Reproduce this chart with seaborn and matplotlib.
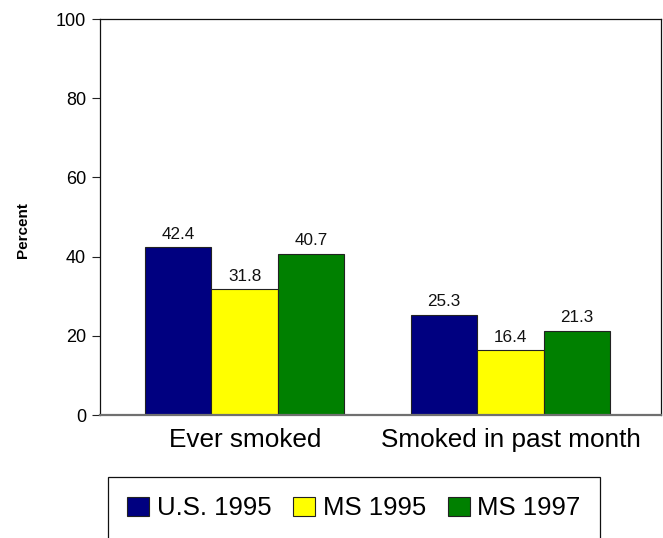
import matplotlib
matplotlib.use("Agg")
import matplotlib.pyplot as plt
import seaborn as sns
import pandas as pd

# Youth tobacco survey: share of students who have smoked
categories = ["Ever smoked", "Smoked in past month"]
series = ["U.S. 1995", "MS 1995", "MS 1997"]
us_1995 = [42.4, 25.3]
ms_1995 = [31.8, 16.4]
ms_1997 = [40.7, 21.3]
yticks = [0, 20, 40, 60, 80, 100]
colors = ["#000080", "#FFFF00", "#008000"]

rows = []
for name, vals in zip(series, [us_1995, ms_1995, ms_1997]):
    for cat, v in zip(categories, vals):
        rows.append({"category": cat, "series": name, "value": v})
df = pd.DataFrame(rows)

sns.set_style("white")
plt.rcParams["font.family"] = ["Liberation Sans", "DejaVu Sans"]
plt.rcParams["text.color"] = "black"
plt.rcParams["xtick.color"] = "black"
plt.rcParams["ytick.color"] = "black"
plt.rcParams["axes.labelcolor"] = "black"

fig = plt.figure(figsize=(6.63, 5.38), dpi=100)
ax = fig.add_axes([100 / 663, 1 - 415 / 538, 561 / 663, 396 / 538])

sns.barplot(data=df, x="category", y="value", hue="series", order=categories,
            hue_order=series, palette=colors, saturation=1, width=0.75, gap=0,
            edgecolor="#222222", linewidth=0.8, ax=ax, legend=True)

for cont in ax.containers:
    ax.bar_label(cont, labels=[f"{b.get_height():.1f}" for b in cont],
                 padding=4, fontsize=12.3, color="#111111")

ax.set_ylim(0, 100)
ax.set_yticks(yticks)
ax.set_xlim(-0.544, 1.565)
ax.set_xlabel("")
ax.set_ylabel("Percent", fontsize=11, fontweight="bold")
ax.yaxis.set_label_coords(-0.125, 0.467)
ax.tick_params(axis="y", which="both", left=True, length=6, width=0.8,
               color="#222222", labelsize=13, pad=4)
ax.tick_params(axis="x", bottom=False, labelsize=18.8, pad=6)
for side in ["left", "top", "right"]:
    ax.spines[side].set_visible(True)
    ax.spines[side].set_color("#111111")
    ax.spines[side].set_linewidth(0.9)
ax.spines["bottom"].set_color("#707070")
ax.spines["bottom"].set_linewidth(1.6)

handles, labels = ax.get_legend_handles_labels()
ax.get_legend().remove()
leg = fig.legend(handles, labels, loc="upper left",
                 bbox_to_anchor=(108 / 663, 1 - 477 / 538), ncol=3,
                 fontsize=18.5, frameon=True, fancybox=False, shadow=False,
                 handlelength=0.85, handleheight=0.8, handletextpad=0.3,
                 columnspacing=0.85, borderpad=0.75, borderaxespad=0)
leg.get_frame().set_edgecolor("#111111")
leg.get_frame().set_linewidth(0.9)
leg.get_frame().set_alpha(1)

fig.savefig("out.png", dpi=100)
